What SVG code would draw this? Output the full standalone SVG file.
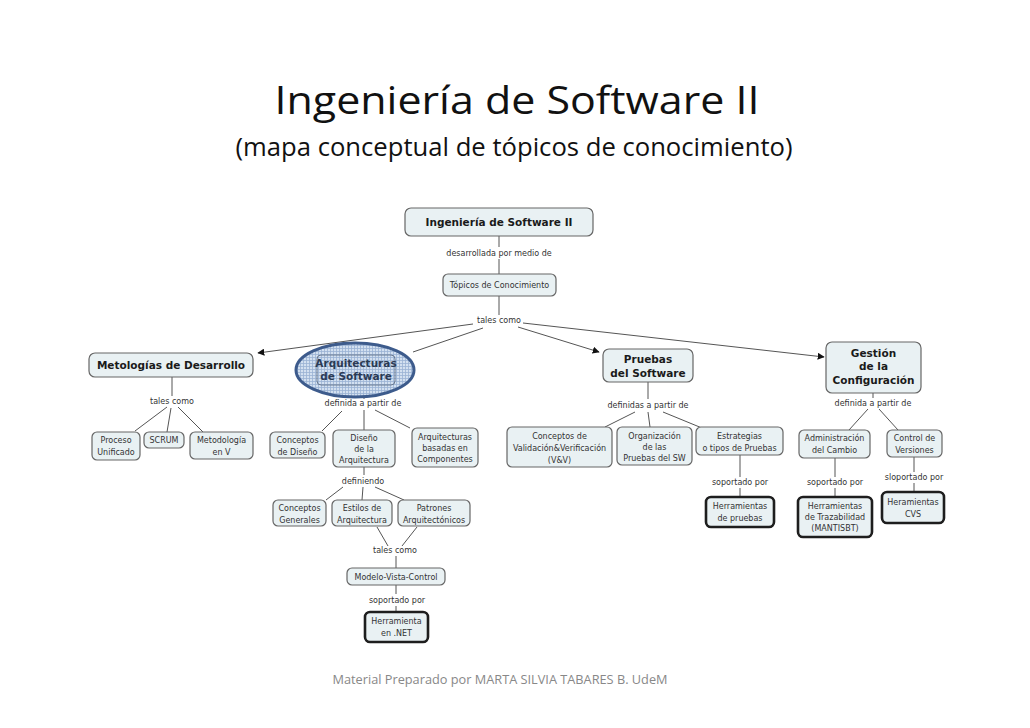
<svg xmlns="http://www.w3.org/2000/svg" width="1030" height="728" viewBox="0 0 1030 728">
<defs>
<style>
.box{fill:#e9f1f3;stroke:#666;stroke-width:1.2}
.thick{fill:#e9f1f3;stroke:#1e1e1e;stroke-width:2.6}
.t{font-family:"DejaVu Sans",Verdana,sans-serif;font-size:8px;fill:#333;text-anchor:middle}
.b{font-family:"DejaVu Sans",Verdana,sans-serif;font-size:10.5px;font-weight:bold;fill:#1a1a1a;text-anchor:middle}
.lbl{font-family:"DejaVu Sans",Verdana,sans-serif;font-size:8px;fill:#333;text-anchor:middle}
.c{stroke:#555;stroke-width:1;fill:none}
.title{font-family:"Open Sans","Noto Sans",sans-serif;fill:#111;text-anchor:middle}
</style>
<marker id="arr" viewBox="0 0 10 10" refX="9" refY="5" markerWidth="7" markerHeight="7" orient="auto" markerUnits="userSpaceOnUse">
<path d="M0,0 L10,5 L0,10 z" fill="#111"/>
</marker>
<pattern id="grid" width="3" height="3" patternUnits="userSpaceOnUse">
<rect width="3" height="3" fill="#d3e0f0"/>
<path d="M0,0.5 H3 M0.5,0 V3" stroke="#9bb2d4" stroke-width="0.8"/>
</pattern>
</defs>
<rect width="1030" height="728" fill="#fff"/>
<text class="title" x="517" y="114" font-size="38" textLength="485" lengthAdjust="spacingAndGlyphs">Ingeniería de Software II</text>
<text class="title" x="514" y="156" font-size="25" textLength="557" lengthAdjust="spacingAndGlyphs">(mapa conceptual de tópicos de conocimiento)</text>

<g id="connectors">
<path class="c" d="M499,236 V247 M499,259 V274 M499,296 V315"/>
<path class="c" d="M473,324 L258,353" marker-end="url(#arr)"/>
<path class="c" d="M483,328 L413,352"/>
<path class="c" d="M518,327 L599,352" marker-end="url(#arr)"/>
<path class="c" d="M523,323 L824,357" marker-end="url(#arr)"/>
<path class="c" d="M172,377 V396 M167,407 L135,431 M171,408 L167,432 M178,407 L203,432"/>
<path class="c" d="M364,397 V399 M342,411 L322,431 M364,410 V430 M375,410 L410,428"/>
<path class="c" d="M364,467 V475 M343,487 L326,500 M363,487 L362,500 M375,487 L404,500"/>
<path class="c" d="M377,527 L388,546 M417,527 L402,546 M396,556 V568 M396,585 V594 M396,606 V612"/>
<path class="c" d="M648,382 V399 M635,412 L605,427 M648,412 L650,427 M663,412 L702,428 M740,455 V477 M740,488 V497"/>
<path class="c" d="M873,393 V398 M868,409 L849,430 M879,409 L898,430 M835,458 V477 M835,488 V497 M914,457 V472 M914,483 V492"/>
</g>

<g id="n-top"><rect class="box" x="405" y="208" width="188" height="28" rx="6"/><text class="b" x="499" y="226" font-size="11">Ingeniería de Software II</text></g>
<text class="lbl" x="499" y="256">desarrollada por medio de</text>
<g id="n-topicos"><rect class="box" x="443" y="274" width="113" height="22" rx="5"/><text class="t" x="499.5" y="288">Tópicos de Conocimiento</text></g>
<text class="lbl" x="499" y="323">tales como</text>

<g id="n-metologias"><rect class="box" x="89" y="353" width="164" height="24" rx="6"/><text class="b" x="171" y="369">Metologías de Desarrollo</text></g>
<text class="lbl" x="172" y="404">tales como</text>
<g id="n-proceso"><rect class="box" x="92" y="432" width="48" height="28" rx="5"/><text class="t" x="116" y="443">Proceso</text><text class="t" x="116" y="455">Unificado</text></g>
<g id="n-scrum"><rect class="box" x="144" y="432" width="40" height="16" rx="5"/><text class="t" x="164" y="443">SCRUM</text></g>
<g id="n-metv"><rect class="box" x="190" y="432" width="63" height="27" rx="5"/><text class="t" x="221.5" y="443">Metodología</text><text class="t" x="221.5" y="455">en V</text></g>

<g id="n-arq"><ellipse cx="355" cy="370" rx="59" ry="27" fill="url(#grid)" stroke="#3d5b8c" stroke-width="3"/><rect x="317" y="355" width="78" height="30" rx="4" fill="none" stroke="#6b7a90" stroke-width="1"/><text class="b" x="356" y="367" style="fill:#2b3a55">Arquitecturas</text><text class="b" x="356" y="380" style="fill:#2b3a55">de Software</text></g>
<text class="lbl" x="363" y="406">definida a partir de</text>
<g id="n-condis"><rect class="box" x="270" y="432" width="55" height="26" rx="5"/><text class="t" x="297.5" y="443">Conceptos</text><text class="t" x="297.5" y="455">de Diseño</text></g>
<g id="n-disarq"><rect class="box" x="333" y="430" width="62" height="37" rx="5"/><text class="t" x="364" y="441">Diseño</text><text class="t" x="364" y="452">de la</text><text class="t" x="364" y="463">Arquitectura</text></g>
<g id="n-arqcomp"><rect class="box" x="412" y="428" width="66" height="39" rx="5"/><text class="t" x="445" y="440">Arquitecturas</text><text class="t" x="445" y="451">basadas en</text><text class="t" x="445" y="462">Componentes</text></g>
<text class="lbl" x="363" y="484">definiendo</text>
<g id="n-congen"><rect class="box" x="273" y="500" width="53" height="26" rx="5"/><text class="t" x="299.5" y="511">Conceptos</text><text class="t" x="299.5" y="523">Generales</text></g>
<g id="n-estilos"><rect class="box" x="332" y="500" width="60" height="26" rx="5"/><text class="t" x="362" y="511">Estilos de</text><text class="t" x="362" y="523">Arquitectura</text></g>
<g id="n-patrones"><rect class="box" x="398" y="500" width="72" height="26" rx="5"/><text class="t" x="434" y="511">Patrones</text><text class="t" x="434" y="523">Arquitectónicos</text></g>
<text class="lbl" x="395" y="553">tales como</text>
<g id="n-mvc"><rect class="box" x="347" y="568" width="98" height="17" rx="5"/><text class="t" x="396" y="580">Modelo-Vista-Control</text></g>
<text class="lbl" x="397" y="603">soportado por</text>
<g id="n-net"><rect class="thick" x="365" y="612" width="63" height="30" rx="5"/><text class="t" x="396.5" y="624">Herramienta</text><text class="t" x="396.5" y="636">en .NET</text></g>

<g id="n-pruebas"><rect class="box" x="603" y="349" width="90" height="33" rx="6"/><text class="b" x="648" y="363">Pruebas</text><text class="b" x="648" y="377">del Software</text></g>
<text class="lbl" x="648" y="408">definidas a partir de</text>
<g id="n-vv"><rect class="box" x="507" y="427" width="105" height="40" rx="5"/><text class="t" x="559.5" y="439">Conceptos de</text><text class="t" x="559.5" y="451">Validación&amp;Verificación</text><text class="t" x="559.5" y="463">(V&amp;V)</text></g>
<g id="n-org"><rect class="box" x="617" y="427" width="75" height="38" rx="5"/><text class="t" x="654.5" y="439">Organización</text><text class="t" x="654.5" y="450">de las</text><text class="t" x="654.5" y="461">Pruebas del SW</text></g>
<g id="n-estr"><rect class="box" x="696" y="427" width="87" height="28" rx="5"/><text class="t" x="739.5" y="439">Estrategias</text><text class="t" x="739.5" y="451">o tipos de Pruebas</text></g>
<text class="lbl" x="740" y="485">soportado por</text>
<g id="n-hpru"><rect class="thick" x="706" y="497" width="68" height="30" rx="5"/><text class="t" x="740" y="509">Herramientas</text><text class="t" x="740" y="521">de pruebas</text></g>

<g id="n-gestion"><rect class="box" x="826" y="342" width="95" height="51" rx="6"/><text class="b" x="873.5" y="357">Gestión</text><text class="b" x="873.5" y="370">de la</text><text class="b" x="873.5" y="384">Configuración</text></g>
<text class="lbl" x="873" y="406">definida a partir de</text>
<g id="n-admin"><rect class="box" x="799" y="430" width="71" height="28" rx="5"/><text class="t" x="834.5" y="441">Administración</text><text class="t" x="834.5" y="453">del Cambio</text></g>
<g id="n-control"><rect class="box" x="887" y="430" width="55" height="27" rx="5"/><text class="t" x="914.5" y="441">Control de</text><text class="t" x="914.5" y="453">Versiones</text></g>
<text class="lbl" x="835" y="485">soportado por</text>
<g id="n-traz"><rect class="thick" x="798" y="497" width="74" height="40" rx="5"/><text class="t" x="835" y="509">Herramientas</text><text class="t" x="835" y="520">de Trazabilidad</text><text class="t" x="835" y="531">(MANTISBT)</text></g>
<text class="lbl" x="914" y="480">sloportado por</text>
<g id="n-cvs"><rect class="thick" x="882" y="492" width="62" height="31" rx="5"/><text class="t" x="913" y="505">Heramientas</text><text class="t" x="913" y="517">CVS</text></g>

<text x="500" y="684" font-family="'Open Sans','Noto Sans',sans-serif" font-size="12.5" fill="#888" text-anchor="middle" textLength="335" lengthAdjust="spacingAndGlyphs">Material Preparado por MARTA SILVIA TABARES B. UdeM</text>
</svg>
